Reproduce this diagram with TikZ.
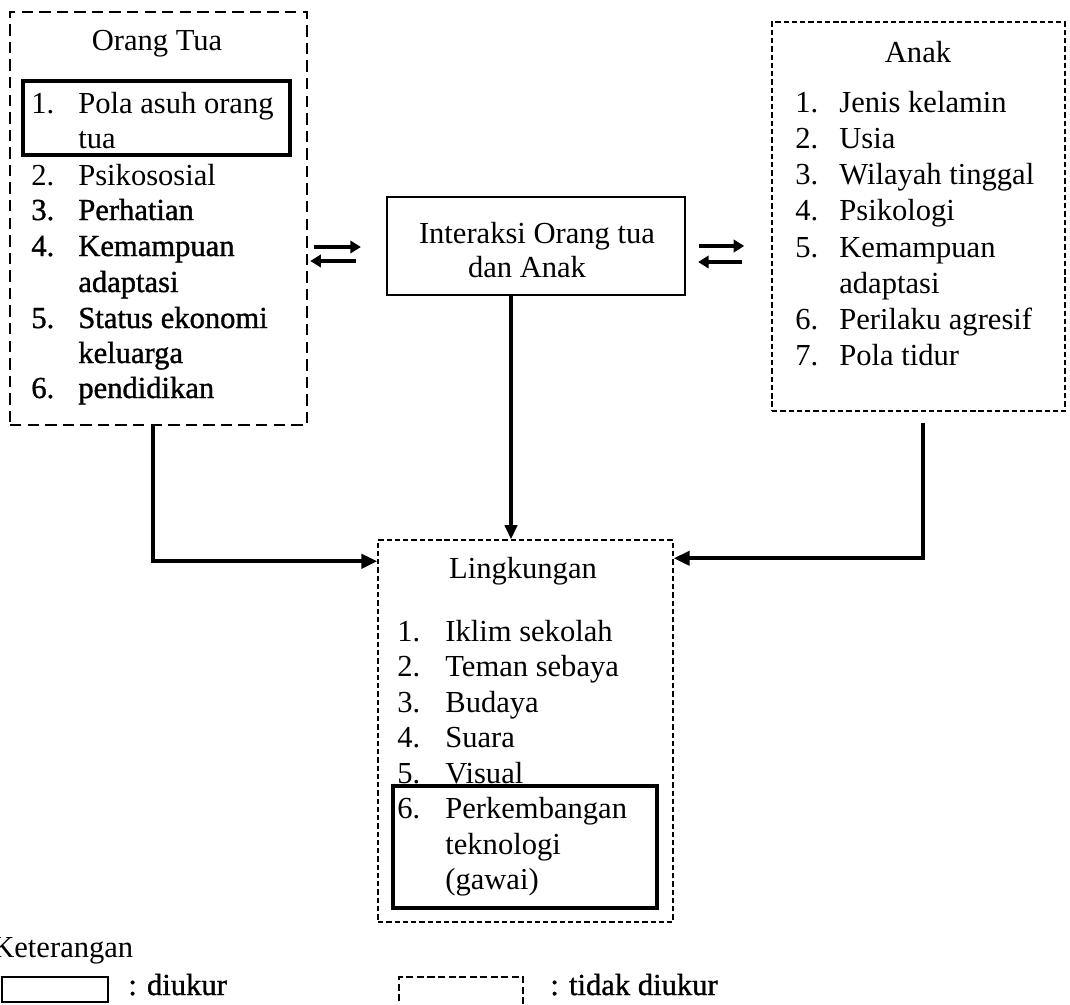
\documentclass[tikz,border=0pt]{standalone}
\usepackage{fontspec}
\setmainfont{Liberation Serif}
\newfontfamily\heavy[FakeBold=1.1]{Liberation Serif}
\usetikzlibrary{arrows.meta,calc}
\begin{document}
\begin{tikzpicture}[x=0.02cm,y=-0.02cm,
  tx/.style={font=\fontsize{17.4pt}{20pt}\selectfont, inner sep=0pt, anchor=base west},
  tc/.style={tx, anchor=base},
  hx/.style={tx, font=\fontsize{17.4pt}{20pt}\selectfont\heavy},
  solidbox/.style={draw, line width=1.3pt, inner sep=0pt},
  keybox/.style={draw, line width=1.9pt, inner sep=0pt},
  longdash/.style={draw, line width=1.5pt, dash pattern=on 6.5pt off 3.5pt, inner sep=0pt},
  finedash/.style={draw, line width=0.9pt, dash pattern=on 3pt off 1.7pt, inner sep=0pt},
  legdash/.style={draw, line width=1pt, dash pattern=on 4pt off 2pt, inner sep=0pt},
  conn/.style={line width=2.2pt, -{Triangle[length=9pt,width=8pt]}},
  conntwo/.style={line width=1.8pt, -{Triangle[length=8pt,width=7pt]}},
  xchg/.style={line width=2pt, -{Triangle[length=6pt,width=7pt]}},
]
\useasboundingbox (0,0) rectangle (1070,1004);

% boxes
\node[longdash, minimum width=5.94cm, minimum height=8.26cm] (ot) at (158.5,218.5) {};
\node[finedash, minimum width=5.86cm, minimum height=7.78cm] (anak) at (918.5,216.5) {};
\node[solidbox, minimum width=5.96cm, minimum height=1.96cm] (inter) at (536,246) {};
\node[finedash, minimum width=5.9cm, minimum height=7.64cm] (lingk) at (525.5,731) {};
\node[keybox, minimum width=5.34cm, minimum height=1.48cm] (otkey) at (156.5,118) {};
\node[keybox, minimum width=5.28cm, minimum height=2.44cm] (lkey) at (525,847) {};

% Orang Tua
\node[tc] (ottitle) at (157,50) {Orang Tua};
\node[tx] (otn1) at (31,113) {1.};  \node[tx] (ott1) at (78,113) {Pola asuh orang};
\node[tx] (ott1b) at (78,148) {tua};
\node[tx] (otn2) at (31,185) {2.};  \node[tx] (ott2) at (78,185) {Psikososial};
\node[hx] (otn3) at (31,220) {3.};  \node[hx] (ott3) at (78,220) {Perhatian};
\node[hx] (otn4) at (31,256) {4.};  \node[hx] (ott4) at (78,256) {Kemampuan};
\node[hx] (ott4b) at (78,292) {adaptasi};
\node[hx] (otn5) at (31,328) {5.};  \node[hx] (ott5) at (78,328) {Status ekonomi};
\node[hx] (ott5b) at (78,363) {keluarga};
\node[hx] (otn6) at (31,398) {6.};  \node[hx] (ott6) at (78,398) {pendidikan};

% Interaksi
\node[tc] (intt1) at (537,243) {Interaksi Orang tua};
\node[tc] (intt2) at (527,277) {dan Anak};

% Anak
\node[tc] (antitle) at (918,62) {Anak};
\node[tx] (ann1) at (795,112) {1.};  \node[tx] (ant1) at (839,112) {Jenis kelamin};
\node[tx] (ann2) at (795,148) {2.};  \node[tx] (ant2) at (839,148) {Usia};
\node[tx] (ann3) at (795,184) {3.};  \node[tx] (ant3) at (839,184) {Wilayah tinggal};
\node[tx] (ann4) at (795,220) {4.};  \node[tx] (ant4) at (839,220) {Psikologi};
\node[tx] (ann5) at (795,257) {5.};  \node[tx] (ant5) at (839,257) {Kemampuan};
\node[tx] (ant5b) at (839,293) {adaptasi};
\node[tx] (ann6) at (795,329) {6.};  \node[tx] (ant6) at (839,329) {Perilaku agresif};
\node[tx] (ann7) at (795,365) {7.};  \node[tx] (ant7) at (839,365) {Pola tidur};

% Lingkungan
\node[tc] (lgtitle) at (523,578) {Lingkungan};
\node[tx] (lgn1) at (397,641) {1.};   \node[tx] (lgt1) at (445,641) {Iklim sekolah};
\node[tx] (lgn2) at (397,676.5) {2.}; \node[tx] (lgt2) at (445,676.5) {Teman sebaya};
\node[tx] (lgn3) at (397,712) {3.};   \node[tx] (lgt3) at (445,712) {Budaya};
\node[tx] (lgn4) at (397,747.5) {4.}; \node[tx] (lgt4) at (445,747.5) {Suara};
\node[tx] (lgn5) at (397,783) {5.};   \node[tx] (lgt5) at (445,783) {Visual};
\node[tx] (lgn6) at (397,818.5) {6.}; \node[tx] (lgt6) at (445,818.5) {Perkembangan};
\node[tx] (lgt6b) at (445,854) {teknologi};
\node[tx] (lgt6c) at (445,889.5) {(gawai)};

% exchange arrows
\draw[xchg] ($(ot.east |- inter.center)+(6,1)$) -- ($(inter.west)+(-25,1)$);
\draw[xchg] ($(inter.west)+(-30,15)$) -- ($(ot.east |- inter.center)+(2,15)$);
\draw[xchg] ($(inter.east)+(13,0)$) -- ($(anak.west |- inter.center)+(-27,0)$);
\draw[xchg] ($(anak.west |- inter.center)+(-29,16)$) -- ($(inter.east)+(12,16)$);

% connectors to Lingkungan
\coordinate (otout) at ($(ot.south)+(-5.5,0)$);
\coordinate (anakout) at ($(anak.south)+(4.5,11)$);
\coordinate (interout) at ($(inter.south)+(-25,0)$);
\draw[conn] (otout) |- ($(lingk.north west)+(0,22)$);
\draw[conn] (anakout) |- ($(lingk.north east)+(0,19)$);
\draw[conntwo] (interout) -- (interout |- lingk.north);

% legend
\node[tx] (ket) at (-8,957) {Keterangan};
\node[solidbox, line width=1.1pt, minimum width=2.12cm, minimum height=0.5cm] (legs) at (55,989.5) {};
\node[hx] (legst) at (128,995) {: diukur};
\node[legdash, minimum width=2.48cm, minimum height=0.6cm] (legd) at (461,992) {};
\node[hx] (legdt) at (550,995) {: tidak diukur};
\end{tikzpicture}
\end{document}
